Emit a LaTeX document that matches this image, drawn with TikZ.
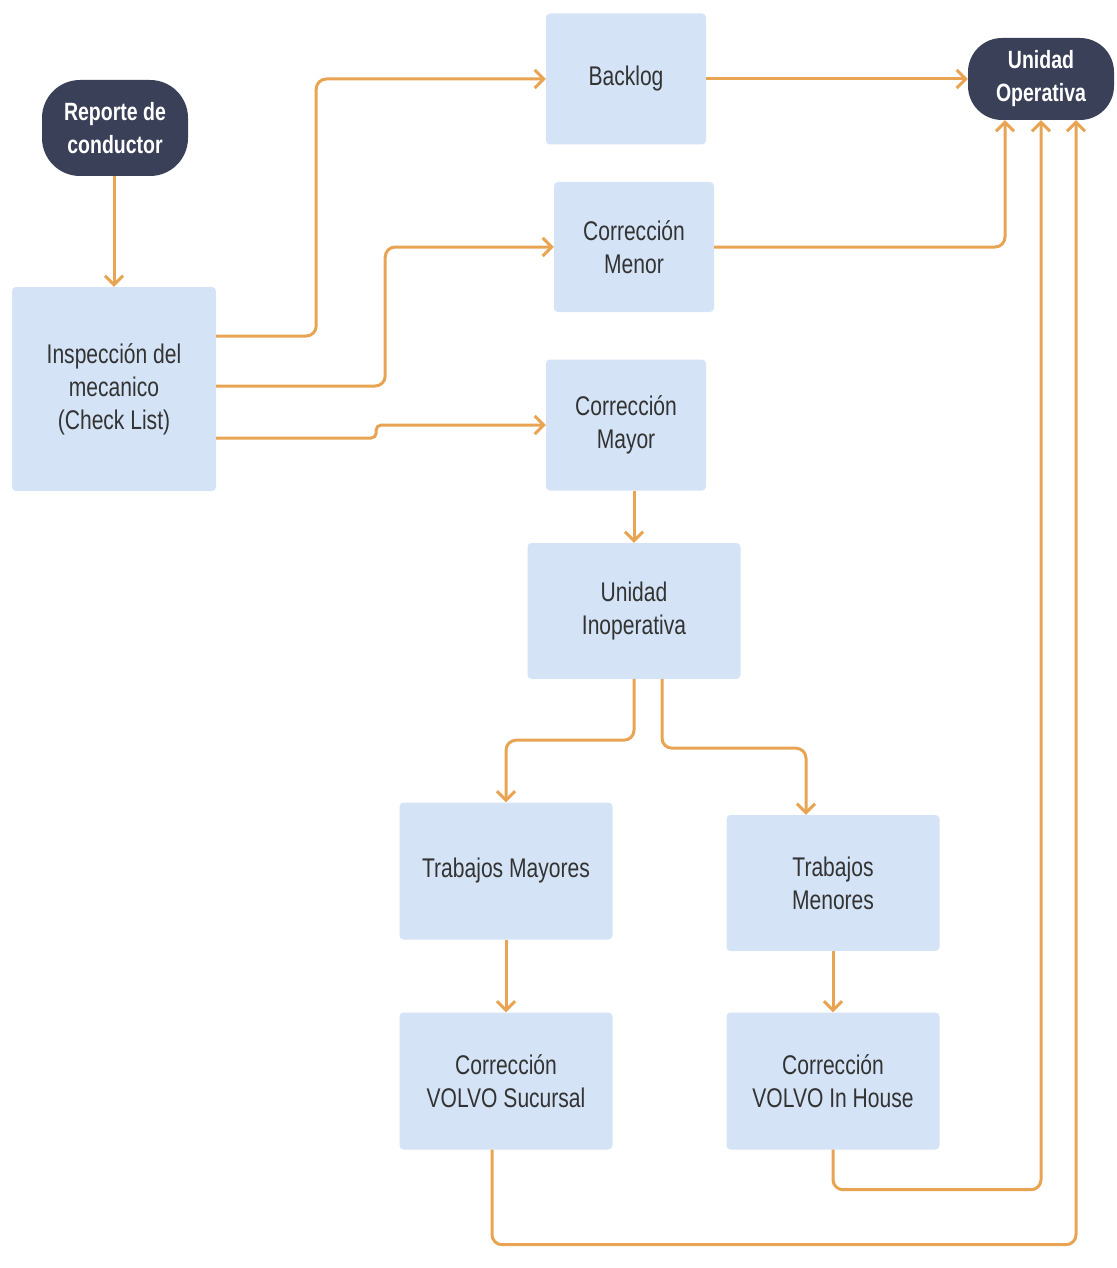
\documentclass[tikz,border=0pt]{standalone}
\usepackage{fontspec}
\setmainfont{Liberation Sans}[FakeStretch=0.78]
\usepackage{tikz}
\usetikzlibrary{arrows.meta}
\definecolor{cajaazul}{HTML}{D4E4F6}
\definecolor{oscuro}{HTML}{3A4058}
\definecolor{naranja}{HTML}{E8A452}
\definecolor{texto}{HTML}{333333}
\tikzset{
	caja/.style={rectangle,rounded corners=4pt,fill=cajaazul,text=texto,align=center,inner sep=0pt,font=\fontsize{27}{33}\selectfont},
	term/.style={rectangle,rounded corners=38pt,fill=oscuro,text=white,align=center,inner sep=0pt,font=\fontsize{25}{33}\selectfont\bfseries},
	flecha/.style={naranja,line width=3pt,rounded corners=10pt,-{Straight Barb[length=9pt,width=18pt]}},
	}
\begin{document}
\begin{tikzpicture}[x=1pt,y=-1pt]
\useasboundingbox (0,0) rectangle (1116,1268);
%NODOS
\node[term,minimum width=146pt,minimum height=96pt] (reporte) at (115,128) {Reporte de\\conductor};
\node[term,minimum width=146pt,minimum height=82pt,rounded corners=34pt] (uop) at (1041,79) {Unidad\\Operativa};
\node[caja,minimum width=204pt,minimum height=204pt] (insp) at (114,389) {Inspección del\\mecanico\\(Check List)};
\node[caja,minimum width=160pt,minimum height=131pt] (backlog) at (626,79) {Backlog};
\node[caja,minimum width=160pt,minimum height=130pt] (cmenor) at (634,247) {Corrección\\Menor};
\node[caja,minimum width=160pt,minimum height=131pt] (cmayor) at (626,425) {Corrección\\Mayor};
\node[caja,minimum width=213pt,minimum height=136pt] (uinop) at (634,611) {Unidad\\Inoperativa};
\node[caja,minimum width=213pt,minimum height=137pt] (tmayores) at (506,871) {Trabajos Mayores};
\node[caja,minimum width=213pt,minimum height=136pt] (tmenores) at (833,883) {Trabajos\\Menores};
\node[caja,minimum width=213pt,minimum height=137pt] (sucursal) at (506,1081) {Corrección\\VOLVO Sucursal};
\node[caja,minimum width=213pt,minimum height=137pt] (inhouse) at (833,1081) {Corrección\\VOLVO In House};
%FLECHAS
\draw[flecha] (insp.north |- reporte.south) -- (insp.north);
\draw[flecha] ([yshift=53pt]insp.east) -- ++(100,0) |- (backlog.west);
\draw[flecha] ([yshift=3pt]insp.east) -- ++(169,0) |- (cmenor.west);
\draw[flecha,rounded corners=5pt] ([yshift=-49pt]insp.east) -- ++(160,0) |- (cmayor.west);
\draw[flecha] (backlog.east) -- (uop.west);
\draw[flecha] (cmenor.east) -| ([xshift=-36pt]uop.south);
\draw[flecha] (uinop.north |- cmayor.south) -- (uinop.north);
% RAMAS
\draw[flecha] (uinop.south) -- ++(0,61) -| (tmayores.north);
\draw[flecha] ([xshift=28pt]uinop.south) -- ++(0,69) -| ([xshift=-27pt]tmenores.north);
\draw[flecha] (tmayores.south) -- (sucursal.north);
\draw[flecha] (tmenores.south) -- (inhouse.north);
% RETORNO
\draw[flecha] (inhouse.south) -- ++(0,40) -| (uop.south);
\draw[flecha] ([xshift=-14pt]sucursal.south) -- ++(0,95) -| ([xshift=35pt]uop.south);
\end{tikzpicture}
\end{document}
